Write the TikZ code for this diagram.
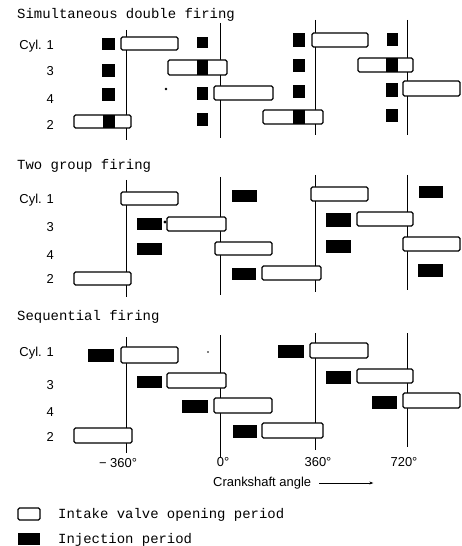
\documentclass[tikz,border=0pt]{standalone}
\usepackage{fontspec}
\setmainfont{Liberation Sans}
\newfontfamily\monof{Liberation Mono}
\usetikzlibrary{arrows.meta}
\tikzset{
  intake/.style={draw, line width=1.3pt, rounded corners=1.5pt, fill=white},
  vline/.style={line width=0.8pt},
  ttl/.style={font=\monof\fontsize{14}{16}\selectfont, anchor=west, inner sep=0pt},
  lbl/.style={font=\fontsize{13}{15}\selectfont, anchor=east, inner sep=0pt},
  tick/.style={font=\fontsize{13}{15}\selectfont, inner sep=0pt},
}
\newcommand\ib[4]{\draw[intake] (#1,#2) rectangle (#3,#4);}
\newcommand\jb[4]{\fill[black] (#1,#2) rectangle (#3,#4);}
\begin{document}
\begin{tikzpicture}[x=1bp,y=-1bp]
\useasboundingbox (0,0) rectangle (462,546);
% ---------- Section 1 ----------
\node[ttl] (t1) at (17,15) {Simultaneous double firing};
\draw[vline] (126,30) -- (126,140);
\draw[vline] (220,23) -- (220,138);
\draw[vline] (315,20) -- (315,135);
\draw[vline] (407,20) -- (407,135);
\node[lbl] (a1) at (54,46) {Cyl. 1};
\node[lbl] (a3) at (54,71) {3};
\node[lbl] (a4) at (54,99) {4};
\node[lbl] (a2) at (54,125) {2};
% row 1
\jb{102}{38}{115}{50}
\ib{121}{37}{178}{50}
\jb{197}{37}{208}{48}
\jb{293}{33}{305}{47}
\ib{312}{33}{368}{47}
\jb{387}{33}{398}{46}
% row 3
\jb{102}{64}{115}{77}
\ib{168}{60}{227}{75}
\jb{197}{60}{208}{75}
\jb{293}{59}{305}{72}
\ib{358}{58}{413}{72}
\jb{386}{58}{398}{72}
% row 4
\jb{102}{88}{115}{101}
\fill (166,89) circle (1.3);
\jb{197}{87}{208}{100}
\ib{214}{86}{273}{100}
\jb{293}{85}{305}{98}
\jb{386}{83}{398}{97}
\ib{403}{81}{460}{96}
% row 2
\ib{74}{115}{131}{128}
\jb{103}{115}{115}{128}
\jb{197}{113}{208}{126}
\ib{263}{110}{323}{124}
\jb{293}{110}{305}{124}
\jb{386}{109}{398}{122}
% ---------- Section 2 ----------
\node[ttl] (t2) at (17,166) {Two group firing};
\draw[vline] (126,180) -- (126,297);
\draw[vline] (220,177) -- (220,295);
\draw[vline] (315,175) -- (315,292);
\draw[vline] (407,175) -- (407,290);
\node[lbl] (b1) at (54,200) {Cyl. 1};
\node[lbl] (b3) at (54,227) {3};
\node[lbl] (b4) at (54,255) {4};
\node[lbl] (b2) at (54,279) {2};
% row 1
\ib{121}{192}{178}{205}
\jb{232}{190}{257}{202}
\ib{311}{187}{368}{201}
\jb{419}{186}{443}{198}
% row 3
\jb{137}{218}{162}{230}
\ib{167}{217}{226}{231}
\fill (165,222) circle (1.6);
\jb{326}{213}{351}{227}
\ib{357}{212}{413}{226}
% row 4
\jb{137}{243}{162}{255}
\ib{215}{242}{272}{255}
\jb{326}{240}{351}{253}
\ib{403}{237}{460}{251}
% row 2
\ib{74}{272}{131}{285}
\jb{232}{268}{256}{280}
\ib{262}{266}{321}{280}
\jb{418}{264}{443}{277}
% ---------- Section 3 ----------
\node[ttl] (t3) at (17,317) {Sequential firing};
\draw[vline] (126,337) -- (126,453);
\draw[vline] (220,335) -- (220,457);
\draw[vline] (315,333) -- (315,450);
\draw[vline] (407,333) -- (407,447);
\node[lbl] (c1) at (54,353) {Cyl. 1};
\node[lbl] (c3) at (54,385) {3};
\node[lbl] (c4) at (54,412) {4};
\node[lbl] (c2) at (54,437) {2};
% row 1
\jb{88}{349}{114}{362}
\ib{121}{347}{178}{363}
\fill (208,352) circle (0.8);
\jb{278}{345}{304}{358}
\ib{310}{343}{368}{358}
% row 3
\jb{137}{376}{162}{388}
\ib{167}{373}{226}{388}
\jb{326}{371}{351}{384}
\ib{357}{369}{413}{383}
% row 4
\jb{182}{400}{208}{413}
\ib{214}{398}{272}{413}
\jb{372}{396}{397}{409}
\ib{403}{393}{460}{408}
% row 2
\ib{74}{428}{132}{443}
\jb{233}{425}{257}{438}
\ib{262}{423}{323}{438}
% ---------- Axis labels ----------
\node[tick] (m360) at (118,463) {\textminus\ 360°};
\node[tick] (z0) at (223,462) {0°};
\node[tick] (p360) at (318,462) {360°};
\node[tick] (p720) at (404,462) {720°};
\node[tick, anchor=west] (ca) at (213,483) {Crankshaft angle};
\coordinate (arrS) at ([xshift=8bp]ca.east);
\coordinate (arrE) at ([xshift=62bp]ca.east);
\draw[line width=0.6pt, -{Stealth[length=4pt,width=3pt]}] (arrS) -- (arrE);
% ---------- Legend ----------
\draw[intake] (18,508) rectangle (40,520);
\fill[black] (18,533) rectangle (40,545);
\node[ttl] (l1) at (58,515) {Intake valve opening period};
\node[ttl] (l2) at (58,540) {Injection period};
\end{tikzpicture}
\end{document}
